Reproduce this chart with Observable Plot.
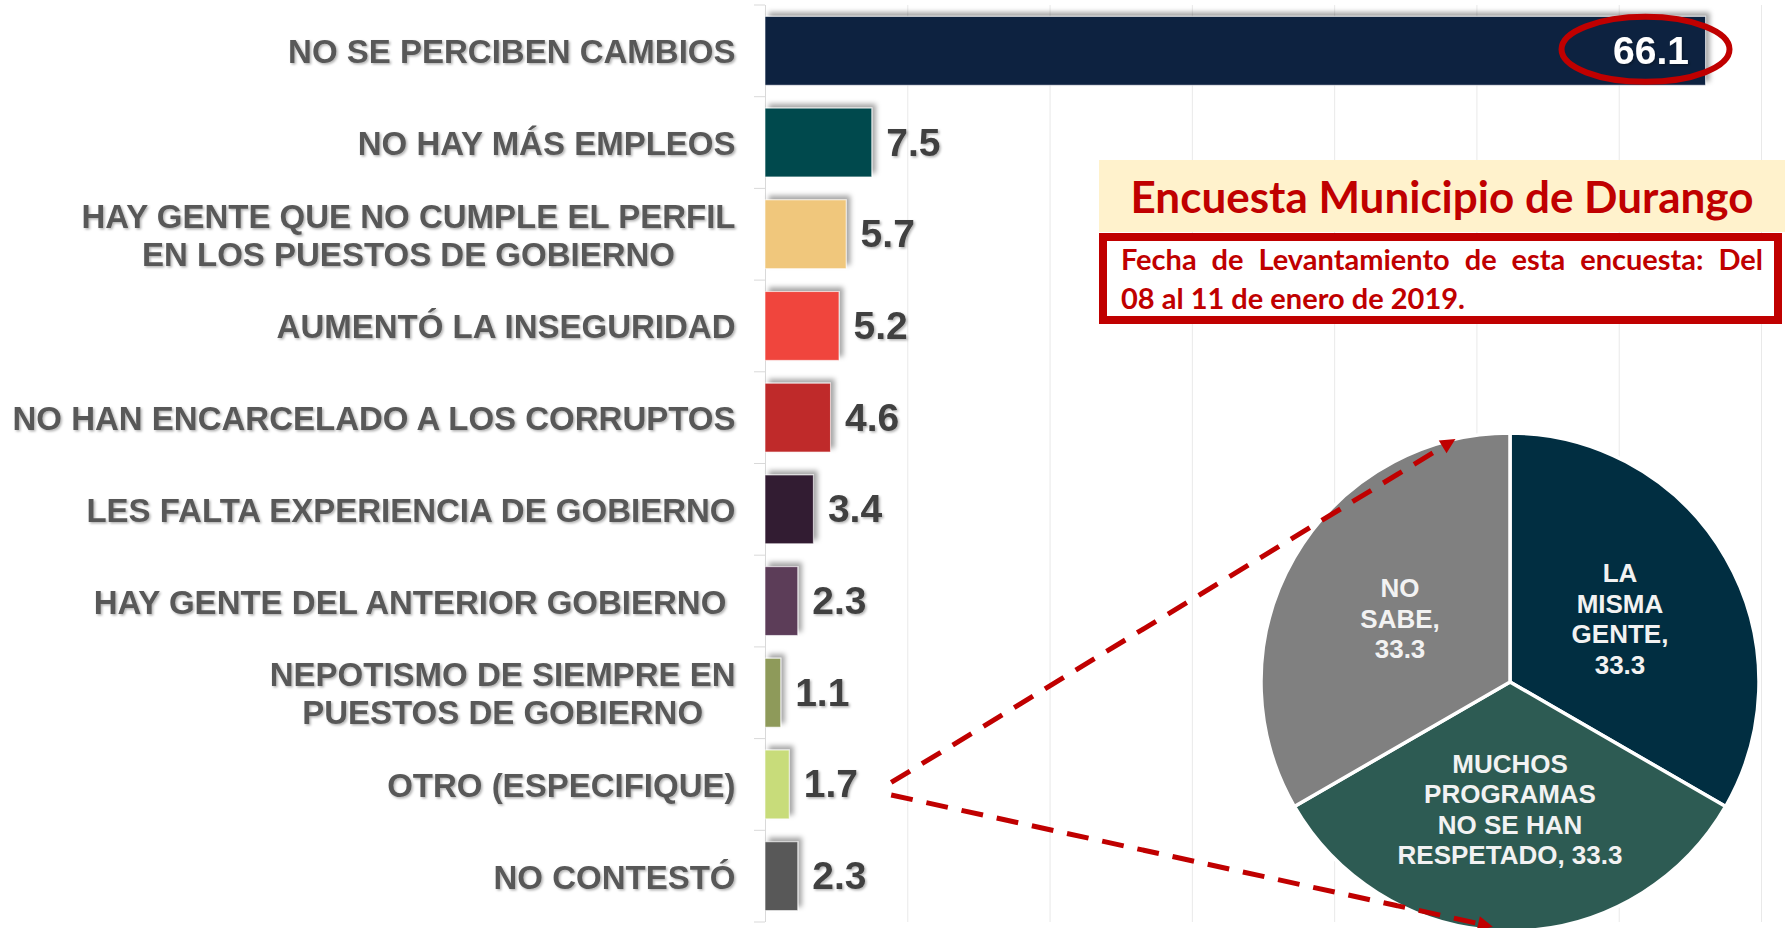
<!DOCTYPE html>
<html>
<head>
<meta charset="utf-8">
<script src="https://cdn.jsdelivr.net/npm/d3@7"></script>
<script src="https://cdn.jsdelivr.net/npm/@observablehq/plot@0.6"></script>
<style>
  html, body { margin: 0; padding: 0; background: #ffffff; }
  #wrap { position: relative; width: 1785px; height: 928px; overflow: hidden; }
  #chart { position: absolute; left: 0; top: 0; }
  .title { position: absolute; left: 1099px; top: 160px; width: 686px; height: 72px;
           background: #fff2cc; color: #c00000; font: bold 44px Lato, sans-serif;
           text-align: center; line-height: 72px; white-space: nowrap; }
  .sub { position: absolute; left: 1099px; top: 233px; width: 683px; height: 91px;
         box-sizing: border-box; border: 8px solid #c00000; background: #ffffff; }
  .subline { position: absolute; left: 1121px; color: #c00000; font: bold 29px Lato, sans-serif;
             line-height: 29px; white-space: nowrap; }
  .l1 { top: 244px; width: 642px; text-align: justify; text-align-last: justify; }
  .l2 { top: 283px; }
</style>
</head>
<body>
<div id="wrap">
  <div id="chart"></div>
  <div class="title" id="title"></div>
  <div class="sub"></div>
  <div class="subline l1" id="sub1"></div>
  <div class="subline l2" id="sub2"></div>
</div>
<script>
// ---------------- data ----------------
const categories = [
  "NO SE PERCIBEN CAMBIOS",
  "NO HAY MÁS EMPLEOS",
  "HAY GENTE QUE NO CUMPLE EL PERFIL\nEN LOS PUESTOS DE GOBIERNO",
  "AUMENTÓ LA INSEGURIDAD",
  "NO HAN ENCARCELADO A LOS CORRUPTOS",
  "LES FALTA EXPERIENCIA DE GOBIERNO",
  "HAY GENTE DEL ANTERIOR GOBIERNO\u00a0",
  "NEPOTISMO DE SIEMPRE EN\nPUESTOS DE GOBIERNO",
  "OTRO (ESPECIFIQUE)",
  "NO CONTESTÓ"
];
const values = [66.1, 7.5, 5.7, 5.2, 4.6, 3.4, 2.3, 1.1, 1.7, 2.3];
const barColors = ["#0b213f", "#004a4d", "#f0c77c", "#f0453c", "#bf2a2a",
                   "#331e33", "#5c3c59", "#8e9a5a", "#c8dc7a", "#595959"];
const gridTicks = [10, 20, 30, 40, 50, 60, 70];

const pieNames = ["LA\nMISMA\nGENTE", "MUCHOS\nPROGRAMAS\nNO SE HAN\nRESPETADO", "NO\nSABE"];
const pieSeparators = ",\n|, |,\n".split("|");
const pieValues = [33.3, 33.3, 33.3];
const pieColors = ["#012e41", "#2d5b53", "#808080"];

const titleText = "Encuesta Municipio de Durango";
const subtitleLines = ["Fecha de Levantamiento de esta encuesta: Del", "08 al 11 de enero de 2019."];

// ------------- derived tables -------------
const bars = categories.map((c, i) => ({cat: c, value: values[i]}));
const pieData = pieNames.map((n, i) => ({name: n, value: pieValues[i], color: pieColors[i],
                                         label: n + pieSeparators[i] + pieValues[i].toFixed(1)}));

// ------------- layout constants -------------
const PIE = {cx: 1510, cy: 682, r: 249};
const RED = "#c00000";

// y-axis boundary ticks (Excel style, between categories)
function boundaryTicks(index, scales) {
  const y = scales.y, x = scales.x;
  const st = y.step(), bw = y.bandwidth();
  const pos = categories.map(c => y(c) - (st - bw) / 2);
  pos.push(pos[pos.length - 1] + st);
  const g = d3.create("svg:g");
  g.selectAll("line").data(pos).join("line")
    .attr("x1", x(0) - 11).attr("x2", x(0))
    .attr("y1", d => d).attr("y2", d => d)
    .attr("stroke", "#d9d9d9").attr("stroke-width", 1);
  return g.node();
}

// red ellipse highlighting the top value
function highlight(index, scales) {
  const x = scales.x, y = scales.y;
  const cx = x(values[0]) - 60;
  const cy = y(categories[0]) + y.bandwidth() / 2 - 1.5;
  const g = d3.create("svg:g");
  g.append("ellipse").attr("cx", cx).attr("cy", cy).attr("rx", 84).attr("ry", 32.5)
    .attr("fill", "none").attr("stroke", RED).attr("stroke-width", 6);
  return g.node();
}

// pie chart of the "OTRO" breakdown
function pieMark() {
  const arcs = d3.pie().sort(null).value(d => d.value)(pieData);
  const arc = d3.arc().innerRadius(0).outerRadius(PIE.r);
  const labelArc = d3.arc().innerRadius(0).outerRadius(PIE.r * 1.02);
  const g = d3.create("svg:g").attr("transform", `translate(${PIE.cx},${PIE.cy})`);
  g.selectAll("path").data(arcs).join("path")
    .attr("d", arc).attr("fill", d => d.data.color)
    .attr("stroke", "#ffffff").attr("stroke-width", 3.5).attr("stroke-linejoin", "round");
  const lh = 30.5;
  arcs.forEach(a => {
    const [lx, ly] = labelArc.centroid(a);
    const lines = a.data.label.split("\n");
    const t = g.append("text").attr("text-anchor", "middle")
      .attr("font-family", "'Liberation Sans', Arial, sans-serif")
      .attr("font-weight", "bold").attr("font-size", 26).attr("fill", "#f2f2f2");
    lines.forEach((ln, i) => {
      t.append("tspan").attr("x", lx).attr("y", ly + (i - (lines.length - 1) / 2) * lh)
        .attr("dy", "0.36em").text(ln);
    });
  });
  return g.node();
}

// dashed arrows from the OTRO value to the pie
function arrows(index, scales) {
  const x = scales.x, y = scales.y;
  const iOtro = categories.indexOf("OTRO (ESPECIFIQUE)");
  const yc = y(categories[iOtro]) + y.bandwidth() / 2;
  const sx = x(values[iOtro]) + 102;
  const pt = (deg, rr) => {
    const a = deg * Math.PI / 180;
    return [PIE.cx + rr * Math.sin(a), PIE.cy - rr * Math.cos(a)];
  };
  const specs = [
    {from: [sx, yc - 2], to: pt(-12.65, PIE.r)},
    {from: [sx, yc + 10.5], to: pt(184, PIE.r * 0.985)}
  ];
  const g = d3.create("svg:g");
  specs.forEach(s => {
    const dx = s.to[0] - s.from[0], dy = s.to[1] - s.from[1];
    const L = Math.hypot(dx, dy), ux = dx / L, uy = dy / L;
    const hl = 15, hw = 7.5;
    const bx = s.to[0] - ux * hl, by = s.to[1] - uy * hl;
    g.append("line").attr("x1", s.from[0]).attr("y1", s.from[1]).attr("x2", bx).attr("y2", by)
      .attr("stroke", RED).attr("stroke-width", 5).attr("stroke-dasharray", "22,14");
    g.append("polygon")
      .attr("points", [[s.to[0], s.to[1]], [bx - uy * hw, by + ux * hw], [bx + uy * hw, by - ux * hw]]
        .map(p => p.join(",")).join(" "))
      .attr("fill", RED);
  });
  return g.node();
}

const chart = Plot.plot({
  width: 1785,
  height: 928,
  marginLeft: 765,
  marginRight: 24,
  marginTop: 5,
  marginBottom: 6,
  style: {fontFamily: "'Liberation Sans', Arial, sans-serif", background: "transparent", overflow: "visible"},
  x: {domain: [0, 70], axis: null},
  y: {domain: categories, axis: null, paddingInner: 0.25, paddingOuter: 0.125, round: false},
  color: {domain: categories, range: barColors},
  marks: [
    Plot.ruleX(gridTicks, {stroke: "#e9e9e9", strokeWidth: 1}),
    Plot.ruleX([0], {stroke: "#d9d9d9", strokeWidth: 1}),
    boundaryTicks,
    Plot.barX(bars, {x: "value", y: "cat", fill: "cat", stroke: "#ffffff", strokeOpacity: 0.6, strokeWidth: 1}),
    Plot.text(bars.slice(1), {x: "value", y: "cat", text: d => d.value.toFixed(1), dx: 14,
      textAnchor: "start", fontSize: 39, fontWeight: "bold", fill: "#404040"}),
    Plot.text(bars.slice(0, 1), {x: "value", y: "cat", text: d => d.value.toFixed(1), dx: -17,
      textAnchor: "end", fontSize: 39, fontWeight: "bold", fill: "#ffffff"}),
    Plot.text(bars, {x: 0, y: "cat", text: "cat", dx: -30, textAnchor: "end",
      fontSize: 33, fontWeight: "bold", fill: "#595959", lineHeight: 1.14}),
    highlight,
    pieMark,
    arrows
  ]
});

document.getElementById("chart").appendChild(chart);
document.getElementById("title").textContent = titleText;
document.getElementById("sub1").textContent = subtitleLines[0];
document.getElementById("sub2").textContent = subtitleLines[1];

// shadows
const svg = d3.select(chart);
const defs = svg.insert("defs", ":first-child");
defs.append("filter").attr("id", "barShadow")
  .attr("x", "-20%").attr("y", "-40%").attr("width", "140%").attr("height", "180%")
  .append("feDropShadow").attr("dx", 4).attr("dy", -4).attr("stdDeviation", 2.5)
  .attr("flood-color", "#000").attr("flood-opacity", 0.35);
defs.append("filter").attr("id", "textShadow")
  .attr("x", "-10%").attr("y", "-30%").attr("width", "120%").attr("height", "160%")
  .append("feDropShadow").attr("dx", 1.5).attr("dy", 1.5).attr("stdDeviation", 1.3)
  .attr("flood-color", "#000").attr("flood-opacity", 0.3);
svg.selectAll('g[aria-label="bar"]').attr("filter", "url(#barShadow)");
svg.selectAll('g[aria-label="text"]').attr("filter", "url(#textShadow)");

// centre the multi-line category labels as blocks, right edge at the label column
svg.selectAll('g[aria-label="text"] text').each(function () {
  const tspans = this.querySelectorAll("tspan");
  if (tspans.length < 2) return;
  let maxW = 0;
  tspans.forEach(t => { maxW = Math.max(maxW, t.getComputedTextLength()); });
  this.setAttribute("text-anchor", "middle");
  tspans.forEach(t => t.setAttribute("x", -maxW / 2));
});
</script>
</body>
</html>
